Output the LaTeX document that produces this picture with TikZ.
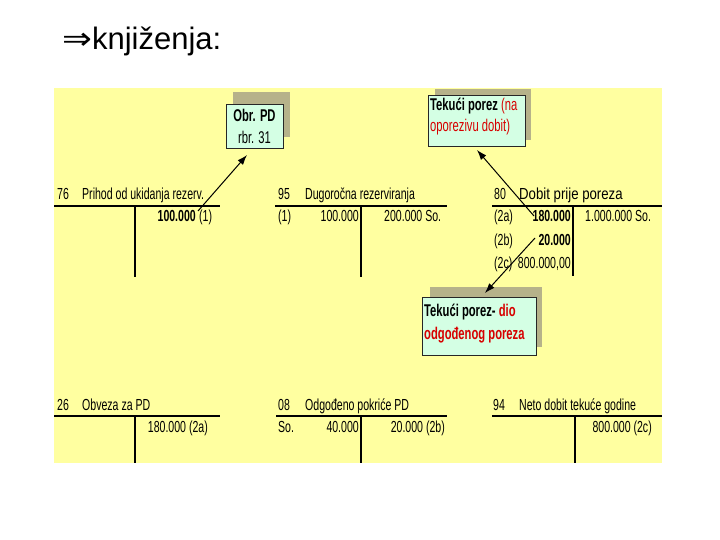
\documentclass[tikz,border=0pt]{standalone}
\usepackage{fontspec}
\usepackage{graphicx}
\usetikzlibrary{arrows.meta}
\setmainfont{Liberation Sans}
\newfontfamily\narrowfont[FakeStretch=0.66]{Liberation Sans}
\newfontfamily\arrowfont{DejaVu Sans}
\definecolor{bgyellow}{RGB}{255,255,160}
\definecolor{boxgreen}{RGB}{212,255,228}
\definecolor{shadowc}{RGB}{182,178,138}
\definecolor{redtxt}{RGB}{215,0,0}
\tikzset{
  tt/.style={inner sep=0pt, anchor=base west, font=\narrowfont\fontsize{16}{19}\selectfont},
  ttr/.style={tt, anchor=base east},
  rule/.style={line width=1.4pt},
  box/.style={draw=black!85, line width=0.8pt, fill=boxgreen, inner sep=0pt},
  bt/.style={inner sep=0pt, anchor=base west, font=\narrowfont\fontsize{17}{20}\selectfont},
  arr/.style={-{Latex[length=10pt,width=7pt]}, line width=1pt},
}
\begin{document}
\begin{tikzpicture}[x=1pt,y=-1pt]
\useasboundingbox (0,0) rectangle (720,540);
% title
\node[anchor=base west, inner sep=0pt, font=\fontsize{31}{37}\selectfont] (title) at (62,50)
  {{\arrowfont\scalebox{1.15}[1]{⇒}}knjiženja:};
% background
\fill[bgyellow] (54,88) rectangle (662,463);

% shadows
\fill[shadowc] (233,92) rectangle (290,137);
\fill[shadowc] (435,89) rectangle (531,140);
\fill[shadowc] (430,287) rectangle (542,347);

% boxes
\node[box, minimum width=57pt, minimum height=44pt, anchor=north west] (b1) at (226,104) {};
\node[bt, anchor=base, font=\narrowfont\fontsize{17}{20}\selectfont\bfseries] (b1a) at (254.5,122) {Obr. PD};
\node[bt, anchor=base] (b1b) at (254.5,144) {rbr. 31};

\node[box, minimum width=97pt, minimum height=51pt, anchor=north west] (b2) at (428,95) {};
\node[bt] (b2a) at (430,111) {\textbf{Tekući porez} \textcolor{redtxt}{(na}};
\node[bt] (b2b) at (430,132) {\textcolor{redtxt}{oporezivu dobit)}};

\node[box, minimum width=114pt, minimum height=58pt, anchor=north west] (b3) at (422,297) {};
\node[bt] (b3a) at (424,316) {\textbf{Tekući porez- \textcolor{redtxt}{dio}}};
\node[bt] (b3b) at (424,339) {\textbf{\textcolor{redtxt}{odgođenog poreza}}};

% table 76
\node[tt] (a0) at (57,200) {76};
\node[tt] (a1) at (82,200) {Prihod od ukidanja rezerv.};
\draw[rule] (54,206) -- (220,206);
\draw[rule] (135,206) -- (135,277);
\node[ttr] (a2) at (196,222) {\textbf{100.000}};
\node[tt] (a3) at (199,222) {(1)};

% table 95
\node[tt] (c0) at (278,200) {95};
\node[tt] (c1) at (305,200) {Dugoročna rezerviranja};
\draw[rule] (275,206) -- (447,206);
\draw[rule] (361,206) -- (361,277);
\node[tt] (c2) at (278,222) {(1)};
\node[ttr] (c3) at (359,222) {100.000};
\node[tt] (c4) at (384,222) {200.000 So.};

% table 80
\node[tt] (d0) at (494,200) {80};
\node[tt] (d1) at (519,200) {\scalebox{1.25}[1]{Dobit prije poreza}};
\draw[rule] (492,206) -- (662,206);
\draw[rule] (573,206) -- (573,276);
\node[tt] (d2) at (494,222) {(2a)};
\node[ttr] (d3) at (571,222) {\textbf{180.000}};
\node[tt] (d4) at (585,222) {1.000.000 So.};
\node[tt] (d5) at (494,245) {(2b)};
\node[ttr] (d6) at (571,245) {\textbf{20.000}};
\node[tt] (d7) at (494,268) {(2c)};
\node[ttr] (d8) at (571,268) {800.000,00};

% table 26
\node[tt] (e0) at (57,410) {26};
\node[tt] (e1) at (82,410) {Obveza za PD};
\draw[rule] (54,416) -- (220,416);
\draw[rule] (135,416) -- (135,463);
\node[ttr] (e2) at (208,432) {180.000 (2a)};

% table 08
\node[tt] (f0) at (278,410) {08};
\node[tt] (f1) at (305,410) {Odgođeno pokriće PD};
\draw[rule] (276,416) -- (447,416);
\draw[rule] (361,416) -- (361,463);
\node[tt] (f2) at (278,432) {So.};
\node[ttr] (f3) at (359,432) {40.000};
\node[ttr] (f4) at (445,432) {20.000 (2b)};

% table 94
\node[tt] (g0) at (493,410) {94};
\node[tt] (g1) at (519,410) {Neto dobit tekuće godine};
\draw[rule] (492,416) -- (662,416);
\draw[rule] (575,416) -- (575,463);
\node[ttr] (g2) at (652,432) {800.000 (2c)};

% arrows
\coordinate (s1) at (198,211);
\coordinate (t1) at (247,155);
\coordinate (s2) at (534,216);
\coordinate (t2) at (477,150);
\coordinate (s3) at (535,238);
\coordinate (t3) at (485,293);
\draw[arr] (s1) -- (t1);
\draw[arr] (s2) -- (t2);
\draw[arr] (s3) -- (t3);
\end{tikzpicture}
\end{document}
